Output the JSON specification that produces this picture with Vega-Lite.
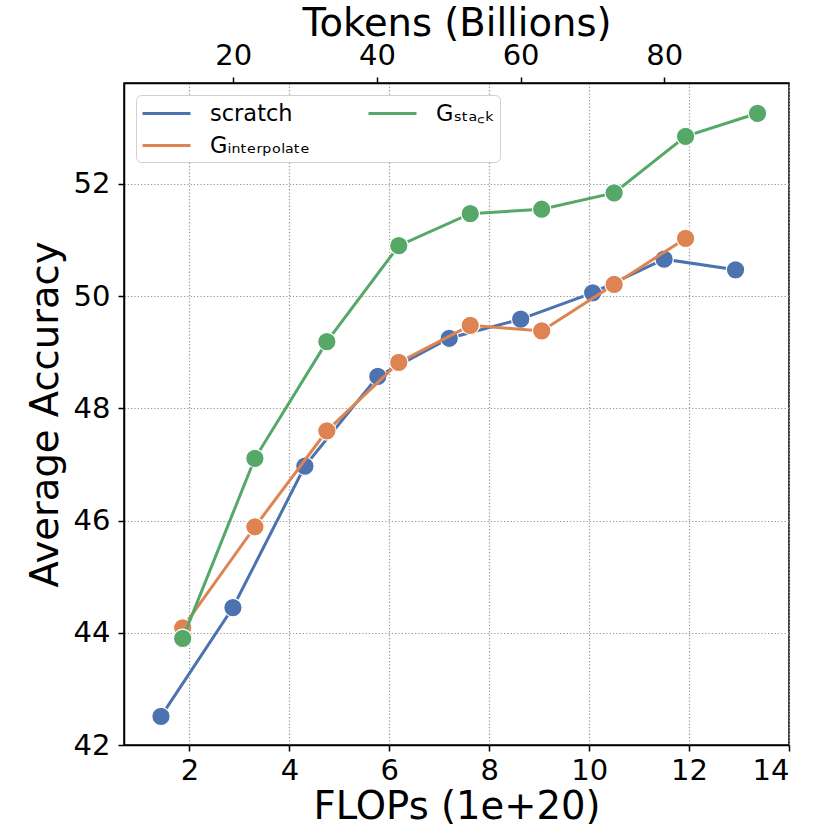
{
  "$schema": "https://vega.github.io/schema/vega-lite/v6.json",
  "width": 665,
  "height": 662,
  "autosize": "none",
  "padding": {"left": 124, "top": 83, "right": 41, "bottom": 85},
  "config": {
    "font": "DejaVu Sans",
    "view": {"stroke": "black", "strokeWidth": 1.5},
    "axis": {
      "labelFont": "DejaVu Sans",
      "titleFont": "DejaVu Sans",
      "labelColor": "black",
      "titleColor": "black",
      "titleFontWeight": "normal",
      "labelFontSize": 29,
      "titleFontSize": 38.5,
      "domainColor": "black",
      "domainWidth": 1.5,
      "tickColor": "black",
      "tickWidth": 1.5,
      "tickSize": 6,
      "gridColor": "#999999",
      "gridDash": [1.3, 2],
      "gridWidth": 1.2,
      "gridOpacity": 1
    },
    "legend": {
      "labelFont": "DejaVu Sans",
      "labelFontSize": 22.5,
      "labelColor": "black"
    }
  },
  "data": {
    "values": [
      {"method": "scratch", "flops": 1.43, "tokens": 10, "acc": 42.51},
      {"method": "scratch", "flops": 2.87, "tokens": 20, "acc": 44.45},
      {"method": "scratch", "flops": 4.31, "tokens": 30, "acc": 46.97},
      {"method": "scratch", "flops": 5.77, "tokens": 40, "acc": 48.57},
      {"method": "scratch", "flops": 7.2, "tokens": 50, "acc": 49.25},
      {"method": "scratch", "flops": 8.63, "tokens": 60, "acc": 49.59},
      {"method": "scratch", "flops": 10.07, "tokens": 70, "acc": 50.06},
      {"method": "scratch", "flops": 11.5, "tokens": 80, "acc": 50.66},
      {"method": "scratch", "flops": 12.93, "tokens": 90, "acc": 50.47},
      {"method": "G_interpolate", "flops": 1.865, "tokens": 13, "acc": 44.09},
      {"method": "G_interpolate", "flops": 3.31, "tokens": 23, "acc": 45.89},
      {"method": "G_interpolate", "flops": 4.75, "tokens": 33, "acc": 47.6},
      {"method": "G_interpolate", "flops": 6.19, "tokens": 43, "acc": 48.82},
      {"method": "G_interpolate", "flops": 7.62, "tokens": 53, "acc": 49.48},
      {"method": "G_interpolate", "flops": 9.05, "tokens": 63, "acc": 49.38},
      {"method": "G_interpolate", "flops": 10.5, "tokens": 73, "acc": 50.21},
      {"method": "G_interpolate", "flops": 11.93, "tokens": 83, "acc": 51.03},
      {"method": "G_stack", "flops": 1.865, "tokens": 13, "acc": 43.9},
      {"method": "G_stack", "flops": 3.31, "tokens": 23, "acc": 47.11},
      {"method": "G_stack", "flops": 4.75, "tokens": 33, "acc": 49.19},
      {"method": "G_stack", "flops": 6.19, "tokens": 43, "acc": 50.9},
      {"method": "G_stack", "flops": 7.62, "tokens": 53, "acc": 51.47},
      {"method": "G_stack", "flops": 9.05, "tokens": 63, "acc": 51.55},
      {"method": "G_stack", "flops": 10.5, "tokens": 73, "acc": 51.84},
      {"method": "G_stack", "flops": 11.93, "tokens": 83, "acc": 52.85},
      {"method": "G_stack", "flops": 13.37, "tokens": 93, "acc": 53.26}
    ]
  },
  "layer": [
    {
      "encoding": {
        "x": {
          "field": "flops",
          "type": "quantitative",
          "scale": {"domain": [0.69, 14.0], "nice": false, "zero": false},
          "axis": {
            "orient": "bottom",
            "title": "FLOPs (1e+20)",
            "values": [2, 4, 6, 8, 10, 12, 14],
            "grid": true,
            "labelPadding": 5,
            "titlePadding": 3
          }
        },
        "y": {
          "field": "acc",
          "type": "quantitative",
          "scale": {"domain": [42.0, 53.8], "nice": false, "zero": false},
          "axis": {
            "title": "Average Accuracy",
            "values": [42, 44, 46, 48, 50, 52],
            "format": "d",
            "grid": true,
            "labelPadding": 8,
            "titlePadding": 8
          }
        },
        "color": {
          "field": "method",
          "type": "nominal",
          "scale": {
            "domain": ["scratch", "G_interpolate", "G_stack"],
            "range": ["#4C72B0", "#DD8452", "#55A868"]
          },
          "legend": {
            "title": null,
            "orient": "none",
            "legendX": 12,
            "legendY": 12,
            "columns": 2,
            "symbolType": "M-1,0H3",
            "symbolSize": 576,
            "symbolStrokeWidth": 3,
            "labelOffset": 42,
            "columnPadding": 52,
            "rowPadding": 7,
            "padding": 5,
            "strokeColor": "#d0d0d0",
            "fillColor": "white",
            "cornerRadius": 5,
            "labelExpr": "datum.label == 'G_stack' ? 'Gₛₜₐ꜀ₖ' : datum.label == 'G_interpolate' ? 'Gᵢₙₜₑᵣₚₒₗₐₜₑ' : datum.label"
          }
        }
      },
      "layer": [
        {
          "transform": [{"filter": "datum.method == 'scratch'"}],
          "mark": {"type": "line", "strokeWidth": 3}
        },
        {
          "transform": [{"filter": "datum.method == 'scratch'"}],
          "mark": {"type": "circle", "size": 340, "opacity": 1, "stroke": "white", "strokeWidth": 1.2}
        },
        {
          "transform": [{"filter": "datum.method == 'G_interpolate'"}],
          "mark": {"type": "line", "strokeWidth": 3}
        },
        {
          "transform": [{"filter": "datum.method == 'G_interpolate'"}],
          "mark": {"type": "circle", "size": 340, "opacity": 1, "stroke": "white", "strokeWidth": 1.2}
        },
        {
          "transform": [{"filter": "datum.method == 'G_stack'"}],
          "mark": {"type": "line", "strokeWidth": 3}
        },
        {
          "transform": [{"filter": "datum.method == 'G_stack'"}],
          "mark": {"type": "circle", "size": 340, "opacity": 1, "stroke": "white", "strokeWidth": 1.2}
        }
      ]
    },
    {
      "mark": {"type": "circle", "opacity": 0},
      "encoding": {
        "x": {
          "field": "tokens",
          "type": "quantitative",
          "scale": {"domain": [4.78, 97.37], "nice": false, "zero": false},
          "axis": {
            "orient": "top",
            "title": "Tokens (Billions)",
            "values": [20, 40, 60, 80],
            "grid": false,
            "labelPadding": 7,
            "titlePadding": -2
          }
        },
        "y": {"field": "acc", "type": "quantitative"}
      }
    }
  ],
  "resolve": {"scale": {"x": "independent"}, "axis": {"x": "independent"}}
}
